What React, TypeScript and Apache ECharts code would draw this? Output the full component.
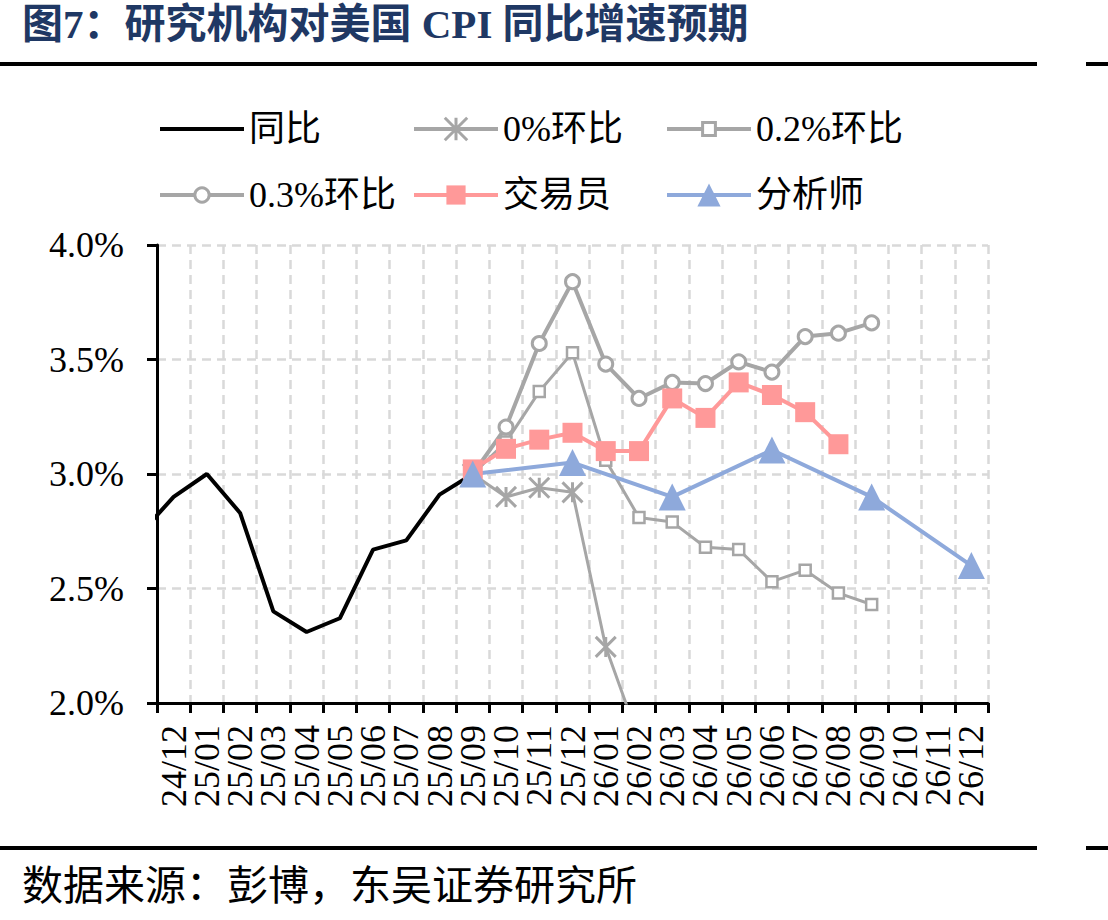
import React, { useEffect, useRef } from "react";
import * as echarts from "echarts";

// Months on the category axis; "24/11" only feeds the clipped lead-in of the 同比 line.
const months = [
  "24/11", "24/12", "25/01", "25/02", "25/03", "25/04", "25/05", "25/06", "25/07",
  "25/08", "25/09", "25/10", "25/11", "25/12", "26/01", "26/02", "26/03", "26/04",
  "26/05", "26/06", "26/07", "26/08", "26/09", "26/10", "26/11", "26/12",
];

// US CPI YoY, actual (%)
const yoyActual = [2.74, 2.9, 3.0, 2.83, 2.4, 2.31, 2.37, 2.67, 2.71, 2.91, 3.0,
  null, null, null, null, null, null, null, null, null, null, null, null, null, null, null];

// Scenario paths, assuming constant month-on-month prints (%)
const mom0 = [null, null, null, null, null, null, null, null, null, null, 3.0,
  2.9, 2.94, 2.92, 2.245, 1.84, null, null, null, null, null, null, null, null, null, null];
const mom02 = [null, null, null, null, null, null, null, null, null, null, 3.0,
  3.14, 3.36, 3.53, 3.06, 2.81, 2.79, 2.68, 2.67, 2.53, 2.58, 2.48, 2.43, null, null, null];
const mom03 = [null, null, null, null, null, null, null, null, null, null, 3.0,
  3.205, 3.57, 3.84, 3.48, 3.33, 3.4, 3.395, 3.49, 3.445, 3.6, 3.615, 3.66, null, null, null];

// Market-implied (traders) and economist consensus (analysts) (%)
const traders = [null, null, null, null, null, null, null, null, null, null, 3.02,
  3.11, 3.15, 3.18, 3.1, 3.1, 3.33, 3.245, 3.4, 3.345, 3.27, 3.13, null, null, null, null];
const analysts = [null, null, null, null, null, null, null, null, null, null, 3.0,
  null, null, 3.05, null, null, 2.9, null, null, 3.105, null, null, 2.9, null, null, 2.6];

const yTicks = { min: 2.0, max: 4.0, step: 0.5 };

const TITLE = "图7：研究机构对美国 CPI 同比增速预期";
const SOURCE = "数据来源：彭博，东吴证券研究所";

const SERIF = '"Liberation Serif", "Times New Roman", "Noto Sans CJK SC", serif';
const GRAY = "#A6A6A6";
const PINK = "#FF9999";
const BLUE = "#8EA9DB";
const GRID = "#D9D9D9";
const NAVY = "#1F3864";

const STAR = "path://M0 0L10 10M10 0L0 10M5 0L5 10";

export default function App() {
  const ref = useRef<HTMLDivElement>(null);

  useEffect(() => {
    if (!ref.current) return;
    const chart = echarts.init(ref.current, null, { renderer: "svg" });

    const legendText = { fontFamily: SERIF, fontSize: 36, color: "#000", lineHeight: 36 };
    const legendBase = { padding: 0, itemWidth: 84, textStyle: legendText, selectedMode: false };

    chart.setOption({
      animation: false,
      backgroundColor: "#fff",
      grid: { left: 157, top: 245, width: 831, height: 458, containLabel: false, outerBoundsMode: "none" },
      legend: [
        {
          ...legendBase, data: ["同比"], left: 158, top: 111, itemHeight: 14,
          lineStyle: { width: 4, color: "#000" },
          itemStyle: { color: "rgba(0,0,0,0)", borderWidth: 0, opacity: 0 },
        },
        {
          ...legendBase, data: ["0%环比"], left: 412, top: 111, itemHeight: 28,
          lineStyle: { width: 4, color: GRAY },
          itemStyle: { color: GRAY, borderColor: GRAY, borderWidth: 3 },
        },
        {
          ...legendBase, data: ["0.2%环比"], left: 665, top: 111, itemHeight: 16,
          lineStyle: { width: 4, color: GRAY },
          itemStyle: { color: "#fff", borderColor: GRAY, borderWidth: 3 },
        },
        {
          ...legendBase, data: ["0.3%环比"], left: 158, top: 177, itemHeight: 18,
          lineStyle: { width: 4, color: GRAY },
          itemStyle: { color: "#fff", borderColor: GRAY, borderWidth: 3 },
        },
        {
          ...legendBase, data: ["交易员"], left: 412, top: 177, itemHeight: 24,
          lineStyle: { width: 4, color: PINK },
          itemStyle: { color: PINK, borderWidth: 0 },
        },
        {
          ...legendBase, data: ["分析师"], left: 665, top: 177, itemHeight: 29,
          lineStyle: { width: 4, color: BLUE },
          itemStyle: { color: BLUE, borderWidth: 0 },
        },
      ],
      xAxis: {
        type: "category",
        data: months,
        min: 1,
        boundaryGap: true,
        axisLine: { show: true, lineStyle: { color: "#000", width: 3 } },
        axisTick: { show: true, interval: 0, length: 10, lineStyle: { color: "#000", width: 3 } },
        axisLabel: {
          interval: 0,
          rotate: 90,
          margin: 22,
          fontFamily: SERIF,
          fontSize: 36,
          color: "#000",
        },
        splitLine: { show: true, interval: 0, lineStyle: { color: GRID, width: 2.5, type: [9, 6] } },
      },
      yAxis: {
        type: "value",
        min: yTicks.min,
        max: yTicks.max,
        interval: yTicks.step,
        axisLine: { show: true, lineStyle: { color: "#000", width: 3 } },
        axisTick: { show: true, length: 10, lineStyle: { color: "#000", width: 3 } },
        axisLabel: {
          margin: 33,
          fontFamily: SERIF,
          fontSize: 36,
          color: "#000",
          formatter: (v: number) => v.toFixed(1) + "%",
        },
        splitLine: { show: true, lineStyle: { color: GRID, width: 2.5, type: [9, 6] } },
      },
      series: [
        {
          name: "同比",
          type: "line",
          data: yoyActual,
          symbol: "none",
          clip: true,
          lineStyle: { color: "#000", width: 4 },
          itemStyle: { color: "#000" },
        },
        {
          name: "0%环比",
          type: "line",
          data: mom0,
          symbol: STAR,
          symbolSize: 20,
          clip: true,
          lineStyle: { color: GRAY, width: 3 },
          itemStyle: { color: GRAY, borderColor: GRAY, borderWidth: 3 },
        },
        {
          name: "0.2%环比",
          type: "line",
          data: mom02,
          symbol: "rect",
          symbolSize: 11,
          clip: true,
          lineStyle: { color: GRAY, width: 3 },
          itemStyle: { color: "#fff", borderColor: GRAY, borderWidth: 2.5 },
        },
        {
          name: "0.3%环比",
          type: "line",
          data: mom03,
          symbol: "circle",
          symbolSize: 14,
          clip: true,
          lineStyle: { color: GRAY, width: 4 },
          itemStyle: { color: "#fff", borderColor: GRAY, borderWidth: 3 },
        },
        {
          name: "交易员",
          type: "line",
          data: traders,
          symbol: "rect",
          symbolSize: 20,
          clip: true,
          lineStyle: { color: PINK, width: 4 },
          itemStyle: { color: PINK },
        },
        {
          name: "分析师",
          type: "line",
          data: analysts,
          connectNulls: true,
          symbol: "triangle",
          symbolSize: 27,
          clip: true,
          lineStyle: { color: BLUE, width: 4 },
          itemStyle: { color: BLUE },
        },
      ],
      graphic: [
        {
          type: "text",
          style: {
            x: 22,
            y: 24,
            text: TITLE,
            fontFamily: SERIF,
            fontWeight: "bold",
            fontSize: 41,
            fill: NAVY,
            verticalAlign: "middle",
          },
        },
        { type: "rect", shape: { x: 0, y: 62, width: 1037, height: 4 }, style: { fill: "#000" } },
        { type: "rect", shape: { x: 1086, y: 62, width: 22, height: 4 }, style: { fill: "#000" } },
        { type: "rect", shape: { x: 0, y: 846, width: 1037, height: 4 }, style: { fill: "#000" } },
        { type: "rect", shape: { x: 1086, y: 846, width: 22, height: 4 }, style: { fill: "#000" } },
        {
          type: "text",
          style: {
            x: 22,
            y: 886,
            text: SOURCE,
            fontFamily: SERIF,
            fontSize: 41,
            fill: "#000",
            verticalAlign: "middle",
          },
        },
      ],
    });

    return () => chart.dispose();
  }, []);

  return (
    <div
      ref={ref}
      style={{ position: "absolute", left: 0, top: 0, width: 1108, height: 920, background: "#fff" }}
    />
  );
}
